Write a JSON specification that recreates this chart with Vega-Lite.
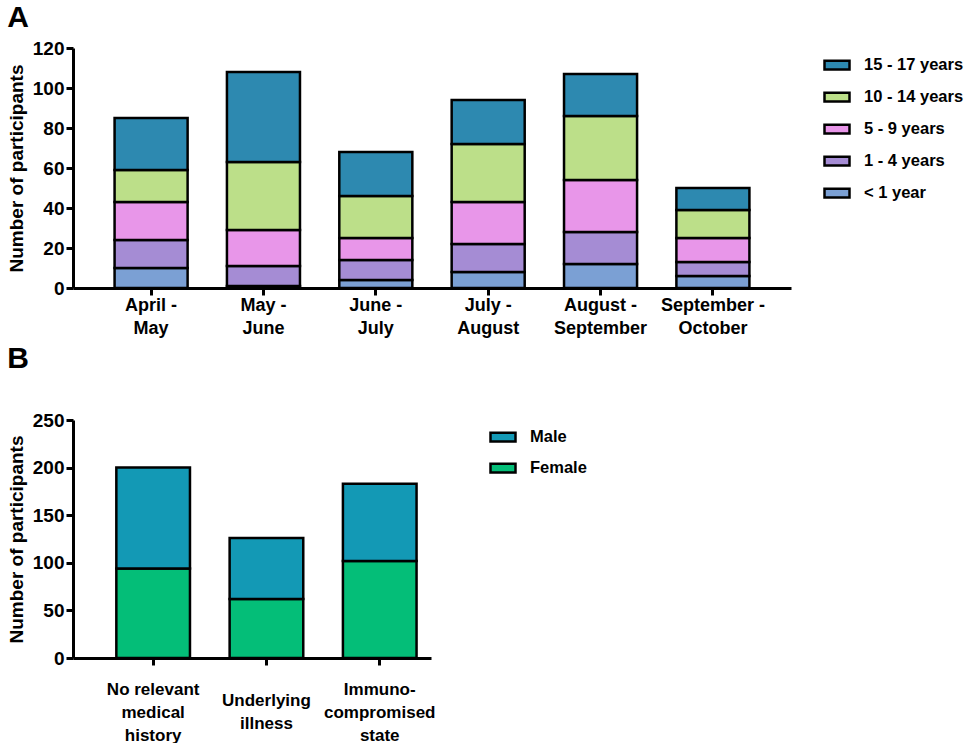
{
  "$schema": "https://vega.github.io/schema/vega-lite/v6.json",
  "background": "white",
  "padding": {"left": 7, "top": 3, "right": 0, "bottom": 0},
  "spacing": 7,
  "resolve": {"scale": {"color": "independent"}, "legend": {"color": "independent"}},
  "config": {
    "font": "Liberation Sans",
    "view": {"stroke": null},
    "axis": {
      "labelFont": "Liberation Sans", "labelFontWeight": "bold", "labelFontSize": 19, "labelColor": "black",
      "titleFont": "Liberation Sans", "titleFontWeight": "bold", "titleFontSize": 19, "titleColor": "black",
      "domainColor": "black", "domainWidth": 3, "tickColor": "black", "tickWidth": 3, "tickSize": 7, "grid": false
    },
    "legend": {
      "labelFont": "Liberation Sans", "labelFontWeight": "bold", "labelFontSize": 16.5, "labelColor": "black",
      "symbolType": "M-1,-0.35L1,-0.35L1,0.35L-1,0.35Z", "symbolSize": 625,
      "symbolStrokeColor": "black", "symbolStrokeWidth": 2.5, "symbolOpacity": 1,
      "labelOffset": 13, "rowPadding": 8, "orient": "none", "title": null
    },
    "title": {"font": "Liberation Sans", "fontWeight": "bold", "fontSize": 30, "color": "black", "anchor": "start", "frame": "bounds"}
  },
  "vconcat": [
    {
      "title": {"text": "A", "offset": 6},
      "width": 718,
      "height": 240,
      "data": {"values": [
        {"period": "April -\nMay", "age": "< 1 year", "minAge": 0, "count": 10},
        {"period": "April -\nMay", "age": "1 - 4 years", "minAge": 1, "count": 14},
        {"period": "April -\nMay", "age": "5 - 9 years", "minAge": 5, "count": 19},
        {"period": "April -\nMay", "age": "10 - 14 years", "minAge": 10, "count": 16},
        {"period": "April -\nMay", "age": "15 - 17 years", "minAge": 15, "count": 26},
        {"period": "May -\nJune", "age": "< 1 year", "minAge": 0, "count": 1},
        {"period": "May -\nJune", "age": "1 - 4 years", "minAge": 1, "count": 10},
        {"period": "May -\nJune", "age": "5 - 9 years", "minAge": 5, "count": 18},
        {"period": "May -\nJune", "age": "10 - 14 years", "minAge": 10, "count": 34},
        {"period": "May -\nJune", "age": "15 - 17 years", "minAge": 15, "count": 45},
        {"period": "June -\nJuly", "age": "< 1 year", "minAge": 0, "count": 4},
        {"period": "June -\nJuly", "age": "1 - 4 years", "minAge": 1, "count": 10},
        {"period": "June -\nJuly", "age": "5 - 9 years", "minAge": 5, "count": 11},
        {"period": "June -\nJuly", "age": "10 - 14 years", "minAge": 10, "count": 21},
        {"period": "June -\nJuly", "age": "15 - 17 years", "minAge": 15, "count": 22},
        {"period": "July -\nAugust", "age": "< 1 year", "minAge": 0, "count": 8},
        {"period": "July -\nAugust", "age": "1 - 4 years", "minAge": 1, "count": 14},
        {"period": "July -\nAugust", "age": "5 - 9 years", "minAge": 5, "count": 21},
        {"period": "July -\nAugust", "age": "10 - 14 years", "minAge": 10, "count": 29},
        {"period": "July -\nAugust", "age": "15 - 17 years", "minAge": 15, "count": 22},
        {"period": "August -\nSeptember", "age": "< 1 year", "minAge": 0, "count": 12},
        {"period": "August -\nSeptember", "age": "1 - 4 years", "minAge": 1, "count": 16},
        {"period": "August -\nSeptember", "age": "5 - 9 years", "minAge": 5, "count": 26},
        {"period": "August -\nSeptember", "age": "10 - 14 years", "minAge": 10, "count": 32},
        {"period": "August -\nSeptember", "age": "15 - 17 years", "minAge": 15, "count": 21},
        {"period": "September -\nOctober", "age": "< 1 year", "minAge": 0, "count": 6},
        {"period": "September -\nOctober", "age": "1 - 4 years", "minAge": 1, "count": 7},
        {"period": "September -\nOctober", "age": "5 - 9 years", "minAge": 5, "count": 12},
        {"period": "September -\nOctober", "age": "10 - 14 years", "minAge": 10, "count": 14},
        {"period": "September -\nOctober", "age": "15 - 17 years", "minAge": 15, "count": 11}
      ]},
      "mark": {"type": "bar", "stroke": "black", "strokeWidth": 2.5, "fillOpacity": 1},
      "encoding": {
        "x": {
          "field": "period", "type": "nominal", "sort": null,
          "scale": {"paddingInner": 0.35, "paddingOuter": 0.37},
          "axis": {"title": null, "labelAngle": 0, "labelBaseline": "top", "labelPadding": 1, "labelFontSize": 18, "labelLineHeight": 23, "labelExpr": "split(datum.label, '\\n')"}
        },
        "y": {
          "field": "count", "type": "quantitative", "aggregate": "sum", "stack": "zero",
          "scale": {"domain": [0, 120], "nice": false},
          "axis": {"title": "Number of participants", "values": [0, 20, 40, 60, 80, 100, 120], "labelPadding": 2, "titlePadding": 6}
        },
        "color": {
          "field": "age", "type": "nominal",
          "scale": {
            "domain": ["15 - 17 years", "10 - 14 years", "5 - 9 years", "1 - 4 years", "< 1 year"],
            "range": ["#2D89B0", "#BCDF89", "#E896E9", "#A58CD4", "#7BA0D4"]
          },
          "legend": {"legendX": 750, "legendY": 3}
        },
        "order": {"field": "minAge", "type": "quantitative", "sort": "ascending"}
      }
    },
    {
      "title": {"text": "B", "offset": 37},
      "width": 358,
      "height": 238,
      "data": {"values": [
        {"group": "No relevant\nmedical\nhistory", "sex": "Female", "count": 94},
        {"group": "No relevant\nmedical\nhistory", "sex": "Male", "count": 106},
        {"group": "Underlying\nillness", "sex": "Female", "count": 62},
        {"group": "Underlying\nillness", "sex": "Male", "count": 64},
        {"group": "Immuno-\ncompromised\nstate", "sex": "Female", "count": 102},
        {"group": "Immuno-\ncompromised\nstate", "sex": "Male", "count": 81}
      ]},
      "mark": {"type": "bar", "stroke": "black", "strokeWidth": 2.5, "fillOpacity": 1},
      "encoding": {
        "x": {
          "field": "group", "type": "nominal", "sort": null,
          "scale": {"paddingInner": 0.35, "paddingOuter": 0.255, "align": 0.75},
          "axis": {
            "title": null, "labelAngle": 0, "labelBaseline": "top",
            "labelPadding": {"condition": {"test": "indexof(datum.value, 'Underlying') >= 0", "value": 27}, "value": 16},
            "labelFontSize": 17, "labelLineHeight": 23, "labelExpr": "split(datum.label, '\\n')"
          }
        },
        "y": {
          "field": "count", "type": "quantitative", "aggregate": "sum", "stack": "zero",
          "scale": {"domain": [0, 250], "nice": false},
          "axis": {"title": "Number of participants", "values": [0, 50, 100, 150, 200, 250], "labelPadding": 2, "titlePadding": 6}
        },
        "color": {
          "field": "sex", "type": "nominal",
          "scale": {"domain": ["Male", "Female"], "range": ["#1399B5", "#04BE78"]},
          "legend": {"legendX": 416, "legendY": 3, "rowPadding": 7}
        },
        "order": {"field": "sex", "type": "nominal", "sort": "ascending"}
      }
    }
  ]
}
